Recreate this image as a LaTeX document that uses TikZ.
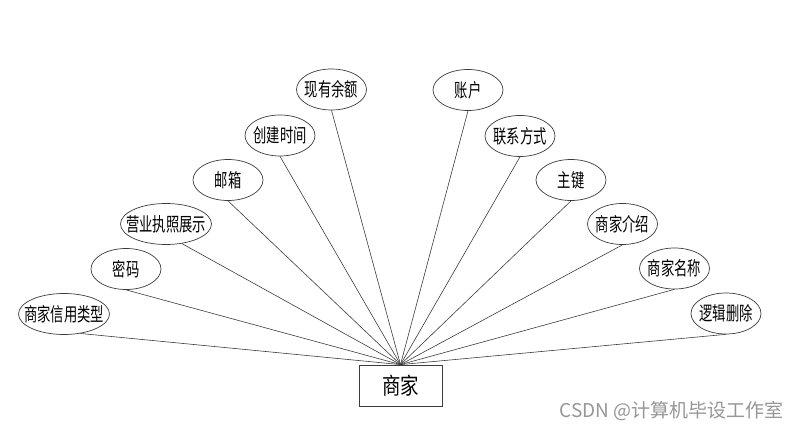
\documentclass[tikz,border=0pt]{standalone}
\usepackage{fontspec}
\setmainfont{Liberation Sans}
\newfontfamily\cjk[FakeStretch=0.7]{Noto Sans CJK SC}
\newfontfamily\cjkbig[FakeStretch=0.8]{Noto Sans CJK SC}
\newfontfamily\wmfont{Noto Sans CJK SC}
\usetikzlibrary{shapes.geometric}
\definecolor{edgegray}{RGB}{60,60,60}
\definecolor{wmgray}{RGB}{150,150,150}
\newcommand{\zw}[1]{\makebox[0pt]{#1}}
\tikzset{
  attr/.style={ellipse, draw=edgegray, line width=0.7pt, minimum width=70pt, minimum height=41pt, inner sep=0pt, font=\cjk\fontsize{19}{19}\selectfont},
  wideattr/.style={attr, minimum width=91pt},
  entity/.style={rectangle, draw=edgegray, line width=0.8pt, minimum width=83pt, minimum height=41pt, inner sep=0pt, font=\cjkbig\fontsize{23}{23}\selectfont},
  link/.style={draw=edgegray, line width=0.6pt}
}
\begin{document}
\begin{tikzpicture}[x=1pt,y=-1pt]
\useasboundingbox (0,0) rectangle (800,430);
\node[entity] (e) at (400.5,385.5) {商家};
\node[wideattr] (a1) at (64,314) {\zw{商家信用类型}};
\node[attr] (a2) at (126,269) {\zw{密码}};
\node[wideattr] (a3) at (166,224) {\zw{营业执照展示}};
\node[attr] (a4) at (228,180) {\zw{邮箱}};
\node[attr] (a5) at (280,135.5) {\zw{创建时间}};
\node[attr] (a6) at (331.5,89.5) {\zw{现有余额}};
\node[attr] (a7) at (468,90) {\zw{账户}};
\node[attr] (a8) at (520,136) {\zw{联系方式}};
\node[attr] (a9) at (571,180) {\zw{主键}};
\node[attr] (a10) at (622.5,224) {\zw{商家介绍}};
\node[attr] (a11) at (674.5,268.5) {\zw{商家名称}};
\node[attr] (a12) at (726,313.5) {\zw{逻辑删除}};
\draw[link] (a1.-50) -- (e.north);
\draw[link] (a2.south) -- (e.north);
\draw[link] (a3.-51) -- (e.north);
\foreach \n in {a4,a5,a6,a7,a8,a9,a10,a11,a12}
  \draw[link] (\n.south) -- (e.north);
\node[text=wmgray, font=\wmfont\fontsize{19}{19}\selectfont, anchor=east, inner sep=0pt] (wm) at (784,411) {CSDN @计算机毕设工作室};
\end{tikzpicture}
\end{document}
